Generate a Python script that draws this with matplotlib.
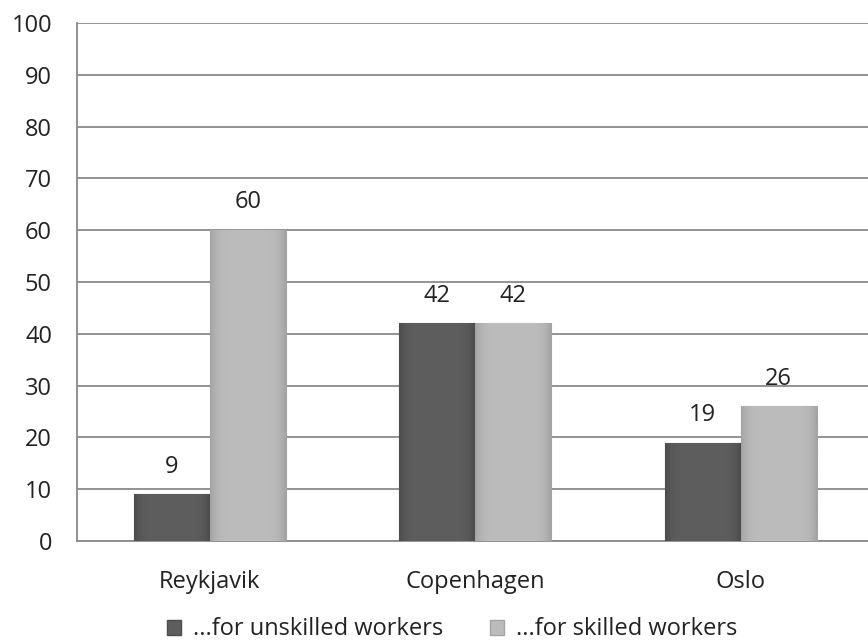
import matplotlib
matplotlib.use("Agg")
import matplotlib.pyplot as plt
import numpy as np
from matplotlib.patches import Patch

plt.rcParams['font.family'] = ['Open Sans', 'DejaVu Sans']

categories = ["Reykjavik", "Copenhagen", "Oslo"]
unskilled = [9, 42, 19]
skilled = [60, 42, 26]
series_names = ["...for unskilled workers", "...for skilled workers"]
yticks = list(range(0, 101, 10))

FS = 17
fig = plt.figure(figsize=(8.68, 6.44), dpi=100)
ax = fig.add_axes([77/868, 1-541/644, (873.5-77)/868, (541-23)/644])

x = np.arange(len(categories))
w = 0.286
dark_mid, dark_edge = np.array([0x5e]*3)/255, np.array([0x4c]*3)/255
light_mid, light_edge = np.array([0xbc]*3)/255, np.array([0xa4]*3)/255

def gradient_fill(bars, cmid, cedge):
    for b in bars:
        bx, by = b.get_x(), b.get_y()
        bw, bh = b.get_width(), b.get_height()
        t = np.linspace(-1, 1, 64)
        f = np.abs(t) ** 6
        row = cmid[None, :] * (1 - f[:, None]) + cedge[None, :] * f[:, None]
        img = np.repeat(row[None, :, :], 8, axis=0)
        im = ax.imshow(img, extent=(bx, bx + bw, by, by + bh), aspect='auto',
                       zorder=3, interpolation='bilinear')
        im.set_clip_path(b)

b1 = ax.bar(x - w/2, unskilled, w, color=dark_mid, edgecolor=dark_edge, linewidth=0.8, zorder=3)
b2 = ax.bar(x + w/2, skilled, w, color=light_mid, edgecolor=light_edge, linewidth=0.8, zorder=3)
gradient_fill(b1, dark_mid, dark_edge)
gradient_fill(b2, light_mid, light_edge)

for bars, vals in ((b1, unskilled), (b2, skilled)):
    for b, v in zip(bars, vals):
        ax.annotate(str(v), (b.get_x() + b.get_width()/2, v), xytext=(0, 20),
                    textcoords='offset points', ha='center', va='center',
                    fontsize=FS, color='#222222')

ax.set_xlim(-0.5, 2.5)
ax.set_ylim(0, 100)
ax.set_yticks(yticks)
ax.set_xticks(x)
ax.set_xticklabels(categories)
ax.tick_params(axis='both', length=0, labelsize=FS, colors='#222222')
ax.tick_params(axis='y', pad=18)
ax.tick_params(axis='x', pad=21)
ax.grid(axis='y', color='#8a8a8a', linewidth=1.3, zorder=0)
ax.set_axisbelow(True)
for s in ['top', 'right']:
    ax.spines[s].set_visible(False)
ax.spines['left'].set_color('#8a8a8a')
ax.spines['left'].set_linewidth(1.3)
ax.spines['bottom'].set_color('#8a8a8a')
ax.spines['bottom'].set_linewidth(1.3)

handles = [Patch(facecolor=dark_mid, edgecolor=dark_edge),
           Patch(facecolor=light_mid, edgecolor=light_edge)]
fig.legend(handles, series_names, loc='lower center', bbox_to_anchor=(452/868, -0.029),
           ncol=2, frameon=False, fontsize=FS, handlelength=0.6, handleheight=0.6,
           handletextpad=0.5, columnspacing=2.0, labelcolor='#222222')

fig.savefig("out.png", dpi=100)
